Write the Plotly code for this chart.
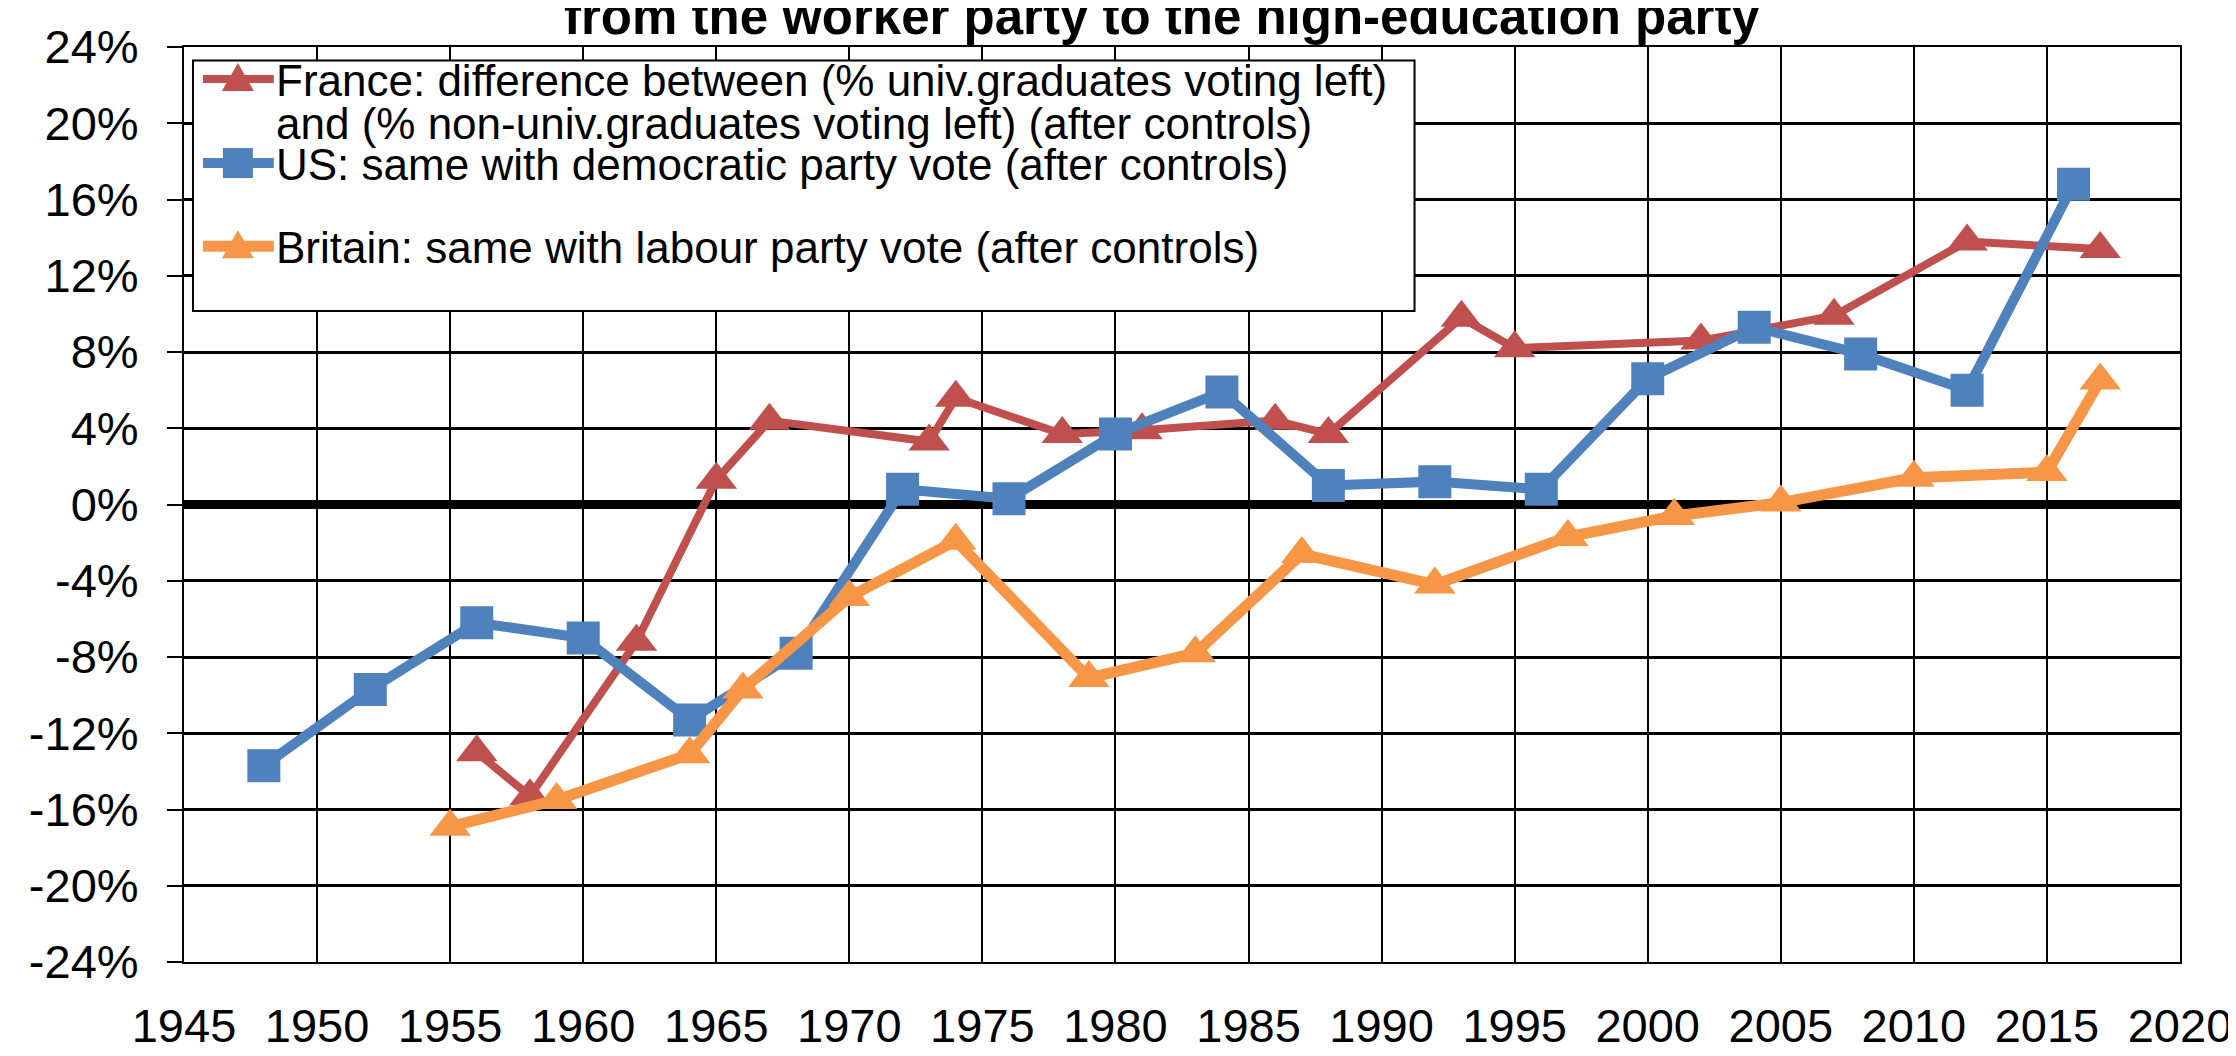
import plotly.graph_objects as go

# ---- data ----
fr_years = [1956, 1958, 1962, 1965, 1967, 1973, 1974, 1978, 1981, 1986, 1988, 1993, 1995, 2002, 2007, 2012, 2017]
fr_vals = [-13.0, -15.3, -7.2, 1.3, 4.4, 3.3, 5.6, 3.7, 3.9, 4.4, 3.7, 9.8, 8.2, 8.6, 9.9, 13.8, 13.4]

us_years = [1948, 1952, 1956, 1960, 1964, 1968, 1972, 1976, 1980, 1984, 1988, 1992, 1996, 2000, 2004, 2008, 2012, 2016]
us_vals = [-13.7, -9.7, -6.2, -7.0, -11.3, -7.8, 0.8, 0.3, 3.7, 5.9, 1.0, 1.2, 0.8, 6.6, 9.3, 7.9, 6.0, 16.8]

uk_years = [1955, 1959, 1964, 1966, 1970, 1974, 1979, 1983, 1987, 1992, 1997, 2001, 2005, 2010, 2015, 2017]
uk_vals = [-16.9, -15.5, -13.1, -9.7, -4.85, -1.9, -9.1, -7.8, -2.6, -4.2, -1.7, -0.6, 0.1, 1.4, 1.7, 6.5]

fr_label_lines = ["France: difference between (% univ.graduates voting left)",
                  "and (% non-univ.graduates voting left) (after controls)"]
us_label = "US: same with democratic party vote (after controls)"
uk_label = "Britain: same with labour party vote (after controls)"

title_text = "from the worker party to the high-education party"

y_tick_vals = [-24, -20, -16, -12, -8, -4, 0, 4, 8, 12, 16, 20, 24]
y_tick_labels = ["-24%", "-20%", "-16%", "-12%", "-8%", "-4%", "0%", "4%", "8%", "12%", "16%", "20%", "24%"]
x_tick_vals = list(range(1945, 2021, 5))

# ---- style ----
RED = "#C0504D"
BLUE = "#4F81BD"
ORANGE = "#F79646"
FONT = "Liberation Sans, Arial, sans-serif"

W, H = 2236, 1056
ML, MR, MT, MB = 176, 60, 33, 77
PW, PH = W - ML - MR, H - MT - MB


def px(xpix):
    """page pixel x -> paper fraction"""
    return (xpix - ML) / PW


def py(ypix):
    """page pixel y -> paper fraction"""
    return (H - MB - ypix) / PH


fig = go.Figure()
fig.add_trace(go.Scatter(x=fr_years, y=fr_vals, name=fr_label_lines[0], mode="lines+markers",
                         line=dict(color=RED, width=8),
                         marker=dict(symbol="triangle-up", size=36, color=RED)))
fig.add_trace(go.Scatter(x=us_years, y=us_vals, name=us_label, mode="lines+markers",
                         line=dict(color=BLUE, width=10),
                         marker=dict(symbol="square", size=33, color=BLUE)))
fig.add_trace(go.Scatter(x=uk_years, y=uk_vals, name=uk_label, mode="lines+markers",
                         line=dict(color=ORANGE, width=11),
                         marker=dict(symbol="triangle-up", size=36, color=ORANGE)))

# ---- custom legend (Excel-like tight line spacing) ----
shapes = [dict(type="rect", xref="paper", yref="paper",
               x0=px(185), x1=px(1409), y0=py(306), y1=py(47),
               line=dict(color="black", width=2), fillcolor="white", layer="above")]
annotations = []

TRI = "M -16,-12 L 16,-12 L 0,16 Z"
SQR = "M -15,-15 L 15,-15 L 15,15 L -15,15 Z"
legend_rows = [(RED, TRI, 66, 8), (BLUE, SQR, 153, 10), (ORANGE, TRI, 239, 11)]
for color, path, ypix, lw in legend_rows:
    shapes.append(dict(type="line", xref="paper", yref="paper",
                       x0=px(195), x1=px(266), y0=py(ypix), y1=py(ypix),
                       line=dict(color=color, width=lw), layer="above"))
    shapes.append(dict(type="path", xref="paper", yref="paper",
                       xsizemode="pixel", ysizemode="pixel",
                       xanchor=px(230), yanchor=py(ypix), path=path,
                       fillcolor=color, line=dict(color=color, width=0), layer="above"))

text_rows = [(fr_label_lines[0], 68), (fr_label_lines[1], 112), (us_label, 154), (uk_label, 240)]
for txt, ypix in text_rows:
    annotations.append(dict(text=txt, xref="paper", yref="paper", x=px(266), y=py(ypix),
                            xanchor="left", yanchor="middle", showarrow=False,
                            font=dict(size=44, family=FONT, color="black")))

annotations.append(dict(text="<b>" + title_text + "</b>", xref="paper", yref="paper",
                        x=0.49, y=1, xanchor="center", yanchor="bottom", yshift=0,
                        showarrow=False, font=dict(size=51, family=FONT, color="black")))

fig.update_layout(
    width=W, height=H,
    margin=dict(l=ML, r=MR, t=MT, b=MB),
    paper_bgcolor="white", plot_bgcolor="white",
    font=dict(family=FONT, color="black", size=44),
    showlegend=False,
    shapes=shapes,
    annotations=annotations,
)
fig.update_xaxes(range=[1945, 2020], tickvals=x_tick_vals, showgrid=True,
                 gridcolor="black", gridwidth=2, showline=True, linecolor="black",
                 linewidth=2, mirror=True, ticks="", tickfont=dict(size=47),
                 ticklabelstandoff=22, zeroline=False)
fig.update_yaxes(range=[-24, 24], tickvals=y_tick_vals, ticktext=y_tick_labels,
                 showgrid=True, gridcolor="black", gridwidth=3, showline=True,
                 linecolor="black", linewidth=2, mirror=True, ticks="outside",
                 ticklen=15, tickwidth=2, tickcolor="black", tickfont=dict(size=47),
                 ticklabelstandoff=19,
                 zeroline=True, zerolinecolor="black", zerolinewidth=9)

fig.write_html("out.html")
